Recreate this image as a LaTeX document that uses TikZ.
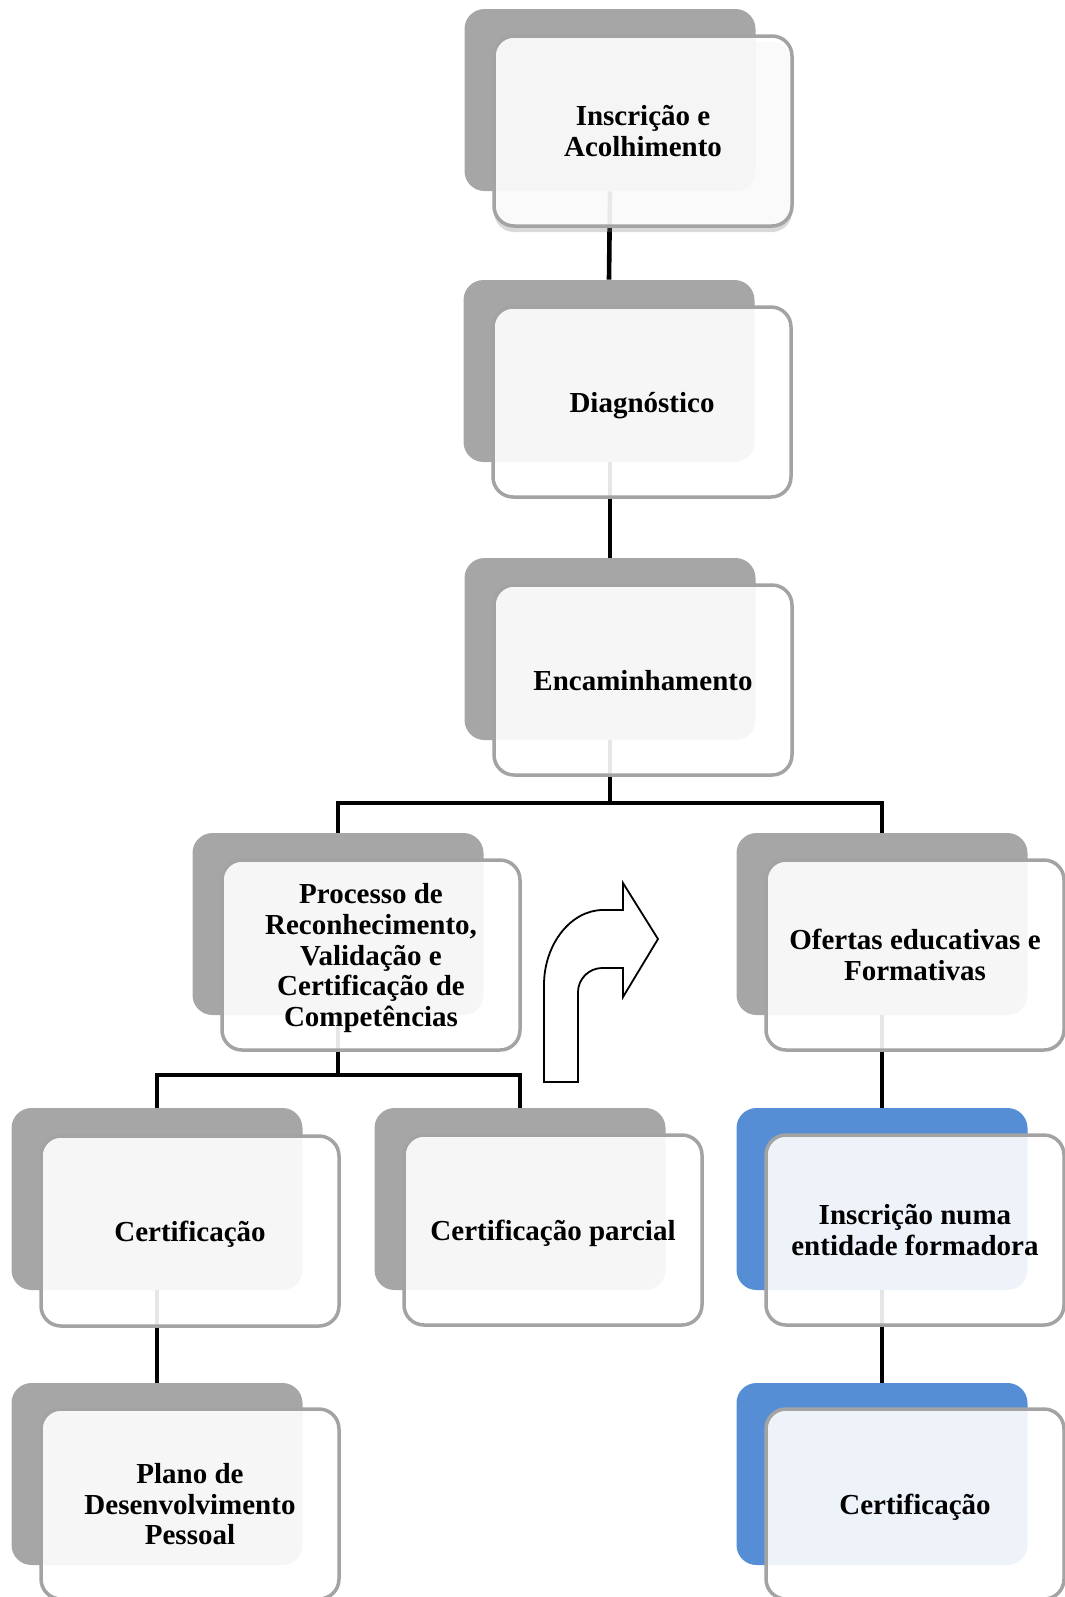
\documentclass[tikz,border=0pt]{standalone}
\usepackage{fontspec}
\setmainfont{Liberation Serif}
\usepackage{tikz}
\pgfdeclarelayer{backlayer}
\pgfdeclarelayer{edgelayer}
\pgfdeclarelayer{nodelayer}
\pgfsetlayers{backlayer,edgelayer,nodelayer,main}
\usetikzlibrary{shadows}
\definecolor{backgray}{HTML}{A6A6A6}
\definecolor{backblue}{HTML}{558ED5}
\definecolor{framegray}{HTML}{A3A3A3}
\tikzset{
	back/.style={fill=backgray, rounded corners=10pt, minimum width=145.5pt, minimum height=91pt, inner sep=0pt},
	blueback/.style={back, fill=backblue},
	front/.style={draw=framegray, line width=1.75pt, fill=white, fill opacity=0.9, text opacity=1, rounded corners=10pt,
		minimum width=149pt, minimum height=95pt, inner sep=0pt, align=center, text depth=0pt,
		font=\fontsize{14.5}{15.4}\selectfont\bfseries},
	link/.style={line width=2.3pt, line join=miter},
	bentarrow/.style={draw=black, line width=0.9pt, fill=white, line join=miter}
}

\begin{document}
\begin{tikzpicture}[x=0.5pt, y=-0.5pt]
	\useasboundingbox (0, 0) rectangle (1065, 1597);
	\begin{pgfonlayer}{backlayer}
		\node [back] (0) at (610, 100) {};
		\node [back] (2) at (609, 371) {};
		\node [back] (4) at (610, 649) {};
		\node [back] (6) at (338, 924) {};
		\node [back] (8) at (882, 924) {};
		\node [back] (10) at (157, 1199) {};
		\node [back] (12) at (520, 1199) {};
		\node [blueback] (14) at (882, 1199) {};
		\node [back] (16) at (157, 1474) {};
		\node [blueback] (18) at (882, 1474) {};
	\end{pgfonlayer}
	\begin{pgfonlayer}{nodelayer}
		\node [front, drop shadow={opacity=0.3, shadow xshift=0pt, shadow yshift=-3pt}] (1) at (643, 131) {Inscrição e\\Acolhimento};
		\node [front] (3) at (642, 402) {Diagnóstico};
		\node [front] (5) at (643, 680) {Encaminhamento};
		\node [front] (7) at (371, 955) {Processo de\\Reconhecimento,\\Validação e\\Certificação de\\Competências};
		\node [front] (9) at (915, 955) {Ofertas educativas e\\Formativas};
		\node [front] (11) at (190, 1231) {Certificação};
		\node [front] (13) at (553, 1230) {Certificação parcial};
		\node [front] (15) at (915, 1230) {Inscrição numa\\entidade formadora};
		\node [front] (17) at (190, 1504) {Plano de\\Desenvolvimento\\Pessoal};
		\node [front] (19) at (915, 1504) {Certificação};
	\end{pgfonlayer}
	\begin{pgfonlayer}{edgelayer}
		\coordinate (20) at (610, 803);
		\coordinate (21) at (338, 1075);
		\draw [link] (0.south) to (2.north);
		\draw [link] (2.south -| 0.south) to (4.north);
		\draw [link] (4.south) to (20);
		\draw [link] (20) -| (6.north);
		\draw [link] (20) -| (8.north);
		\draw [link] (6.south) to (21);
		\draw [link] (21) -| (10.north);
		\draw [link] (21) -| (12.north);
		\draw [link] (8.south) to (14.north);
		\draw [link] (14.south) to (18.north);
		\draw [link] (10.south) to (16.north);
	\end{pgfonlayer}
	\draw [bentarrow] (544, 1082) -- (544, 985) .. controls (544, 944) and (571, 910) .. (603, 910)
		-- (623, 910) -- (623, 883) -- (658, 939) -- (623, 997) -- (623, 968) -- (602, 968)
		.. controls (589, 968) and (578, 979) .. (578, 992) -- (578, 1082) -- cycle;
\end{tikzpicture}
\end{document}
